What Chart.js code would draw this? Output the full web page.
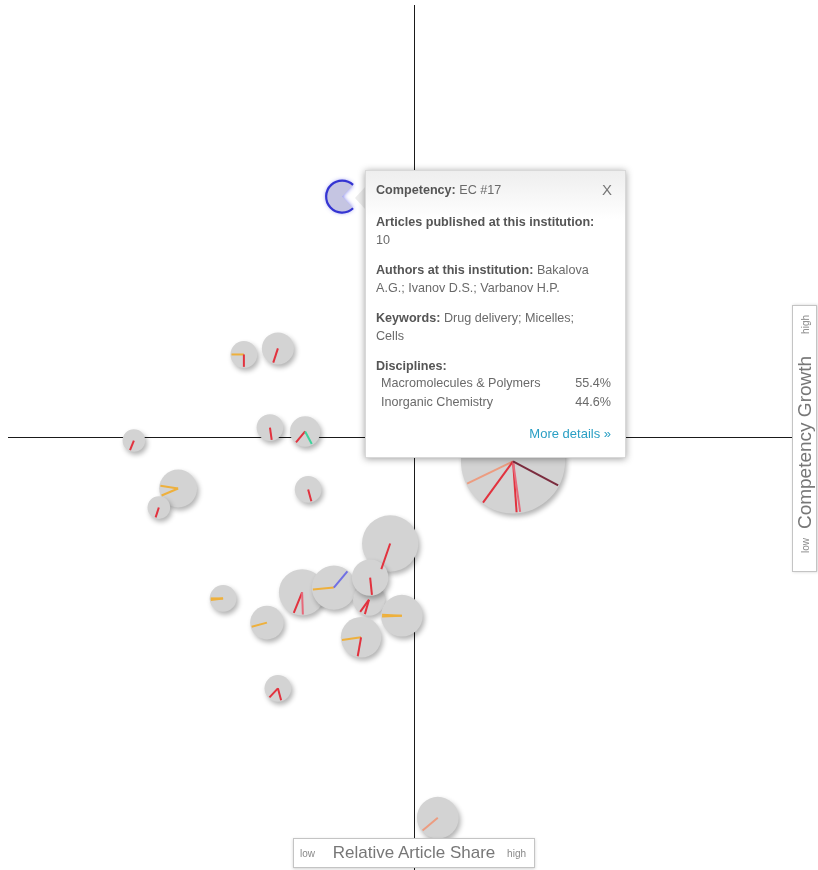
<!DOCTYPE html>
<html><head><meta charset="utf-8">
<script src="https://cdn.jsdelivr.net/npm/chart.js@4.4.1/dist/chart.umd.min.js"></script>
<style>
html,body{margin:0;padding:0;background:#fff;overflow:hidden}
#wrap{position:relative;width:818px;height:870px;font-family:"Liberation Sans",Arial,sans-serif}
#c{position:absolute;left:0;top:0}
.tip{position:absolute;left:365px;top:170px;width:261px;height:288px;box-sizing:border-box;border:1px solid #d8d8d8;background:linear-gradient(#eeeeee,#ffffff 48px);box-shadow:0 1px 7px rgba(0,0,0,.38);color:#6a6a6a;font-size:12.6px}
.tip div{position:absolute;white-space:nowrap;line-height:18px}
.tip b{color:#555}
.tip .x{font-size:15px;color:#777;left:236px;top:10px}
.tip .pct{right:14px}
.tip .more{right:14px;color:#2a9fc4;font-size:13px}
.arrow{position:absolute;left:355px;top:186px;width:0;height:0;border-top:12px solid transparent;border-bottom:12px solid transparent;border-right:11px solid #ececec}
.axbox{position:absolute;box-sizing:border-box;border:1px solid #c4c4c4;background:#fff;box-shadow:0 1px 3px rgba(0,0,0,.18);color:#777}
.axbox span{position:absolute;white-space:nowrap;top:50%;transform:translateY(-50%)}
.axbox .sm{font-size:10px;color:#888}
.axbox .tt{font-size:17px;left:50%;transform:translate(-50%,-50%)}
</style>
</head><body>
<div id="wrap">
<canvas id="c" width="818" height="870"></canvas>
<div class="arrow"></div>
<div class="tip">
  <div style="left:10px;top:10px"><b>Competency:</b> EC #17</div>
  <div class="x">X</div>
  <div style="left:10px;top:42px"><b>Articles published at this institution:</b></div>
  <div style="left:10px;top:60px">10</div>
  <div style="left:10px;top:90px"><b>Authors at this institution:</b> Bakalova</div>
  <div style="left:10px;top:108px">A.G.; Ivanov D.S.; Varbanov H.P.</div>
  <div style="left:10px;top:138px"><b>Keywords:</b> Drug delivery; Micelles;</div>
  <div style="left:10px;top:156px">Cells</div>
  <div style="left:10px;top:186px"><b>Disciplines:</b></div>
  <div style="left:15px;top:203px">Macromolecules &amp; Polymers</div>
  <div class="pct" style="top:203px">55.4%</div>
  <div style="left:15px;top:222px">Inorganic Chemistry</div>
  <div class="pct" style="top:222px">44.6%</div>
  <div class="more" style="top:254px">More details »</div>
</div>
<div class="axbox" style="left:293px;top:838px;width:242px;height:30px">
  <span class="sm" style="left:6px">low</span>
  <span class="tt">Relative Article Share</span>
  <span class="sm" style="right:8px">high</span>
</div>
<div class="axbox" style="left:670.5px;top:426px;width:267px;height:25px;transform:rotate(-90deg);transform-origin:50% 50%">
  <span class="sm" style="left:18px">low</span>
  <span class="tt" style="left:48.5%;font-size:19px">Competency Growth</span>
  <span class="sm" style="right:9px">high</span>
</div>
</div>
<script>
// ---- data ----
const relativeArticleShare = [0.262,-0.063,-0.296,-0.212,-0.119,-0.116,-0.032,-0.140,-0.505,-0.389,-0.360,0.063,-0.450,-0.360,-0.381,-0.288,-0.741,-0.624,-0.675,-0.280,-0.190];
const competencyGrowth     = [-0.055,-0.245,-0.358,-0.347,-0.375,-0.324,-0.412,-0.462,-0.372,-0.428,-0.580,-0.879,0.192,0.206,0.023,0.014,-0.007,-0.118,-0.162,-0.120,0.557];
const articlesPublished    = [106,31,21,19,10,13,17,16,7,11,7,17,7,10,7,9,5,14,5,7,10];
// slice boundaries per competency: [angle in degrees, discipline]
const sliceEdges = [
  [[154,'salmon'],[126,'red'],[86,'red'],[82,'pink'],[28,'maroon']],
  [[109,'red']],
  [[112,'red'],[88,'pink']],
  [[175,'orange'],[-50,'blue']],
  [[126,'red'],[106,'red']],
  [[84,'red']],
  [[178,'orange'],[183,'orange']],
  [[172,'orange'],[100,'red']],
  [[180,'orange'],[172,'orange']],
  [[165,'orange']],
  [[133,'red'],[75,'red']],
  [[140,'salmon']],
  [[180,'orange'],[90,'red']],
  [[108,'red']],
  [[82,'red']],
  [[130,'red'],[62,'green']],
  [[112,'red']],
  [[189,'orange'],[157,'orange']],
  [[108,'red']],
  [[75,'red']],
  []
];
const selectedIndex = 20; // EC #17
const disciplineColors = {red:'#e2323e',orange:'#eeb03c',salmon:'#ec9c80',pink:'#e7697a',blue:'#7070e4',green:'#3ed39c',maroon:'#7b2c3e'};

const RADIUS_K = 5.06;
const points = relativeArticleShare.map((x,i)=>({x, y:competencyGrowth[i], r:RADIUS_K*Math.sqrt(articlesPublished[i])}));

const crossPlugin = {
  id:'cross',
  beforeDatasetsDraw(chart){
    const {ctx, chartArea:a, scales:{x,y}} = chart;
    const px = Math.round(x.getPixelForValue(0))+0.5;
    const py = Math.floor(y.getPixelForValue(0))+0.5;
    ctx.save();
    ctx.strokeStyle='#1a1a1a'; ctx.lineWidth=1;
    ctx.beginPath();
    ctx.moveTo(px,a.top); ctx.lineTo(px,a.bottom);
    ctx.moveTo(a.left,py); ctx.lineTo(a.right,py);
    ctx.stroke();
    ctx.restore();
  }
};
const pieLinesPlugin = {
  id:'pieLines',
  beforeDatasetDraw(chart){
    const ctx=chart.ctx; ctx.save();
    ctx.shadowColor='rgba(0,0,0,0.30)'; ctx.shadowBlur=5; ctx.shadowOffsetX=2; ctx.shadowOffsetY=3;
  },
  afterDatasetDraw(chart,args){
    const ctx=chart.ctx; ctx.restore();
    const meta=args.meta;
    meta.data.forEach((el,i)=>{
      const r=points[i].r;
      if(i===selectedIndex){
        const a0=-47*Math.PI/180, a1=47*Math.PI/180;
        ctx.save();
        ctx.beginPath();
        ctx.moveTo(el.x,el.y);
        ctx.arc(el.x,el.y,r,a1,a0+2*Math.PI);
        ctx.closePath();
        ctx.fillStyle='#c5c5e2';
        ctx.shadowColor='rgba(70,70,230,0.7)'; ctx.shadowBlur=4;
        ctx.fill();
        ctx.shadowColor='transparent';
        ctx.lineWidth=2.2; ctx.strokeStyle='#3434d2';
        ctx.beginPath(); ctx.arc(el.x,el.y,r,a1,a0+2*Math.PI); ctx.stroke();
        ctx.restore();
        return;
      }
      ctx.save();
      ctx.lineWidth=2; ctx.lineCap='butt';
      sliceEdges[i].forEach(([deg,key])=>{
        const t=deg*Math.PI/180;
        ctx.strokeStyle=disciplineColors[key];
        ctx.beginPath();
        ctx.moveTo(el.x,el.y);
        ctx.lineTo(el.x+Math.cos(t)*(r-1),el.y+Math.sin(t)*(r-1));
        ctx.stroke();
      });
      ctx.restore();
    });
  }
};

new Chart(document.getElementById('c'),{
  type:'bubble',
  data:{datasets:[{
    data:points,
    backgroundColor:points.map((p,i)=>i===selectedIndex?'rgba(0,0,0,0)':'#d3d3d3'),
    borderWidth:0,
    hoverRadius:0
  }]},
  options:{
    responsive:false, devicePixelRatio:1, animation:false, events:[],
    layout:{autoPadding:false,padding:{left:8,right:26,top:5,bottom:0}},
    scales:{
      x:{type:'linear',min:-1.074,max:1,display:false},
      y:{type:'linear',min:-1,max:1,display:false}
    },
    plugins:{legend:{display:false},tooltip:{enabled:false}},
    clip:false
  },
  plugins:[crossPlugin,pieLinesPlugin]
});
</script>
</body></html>
